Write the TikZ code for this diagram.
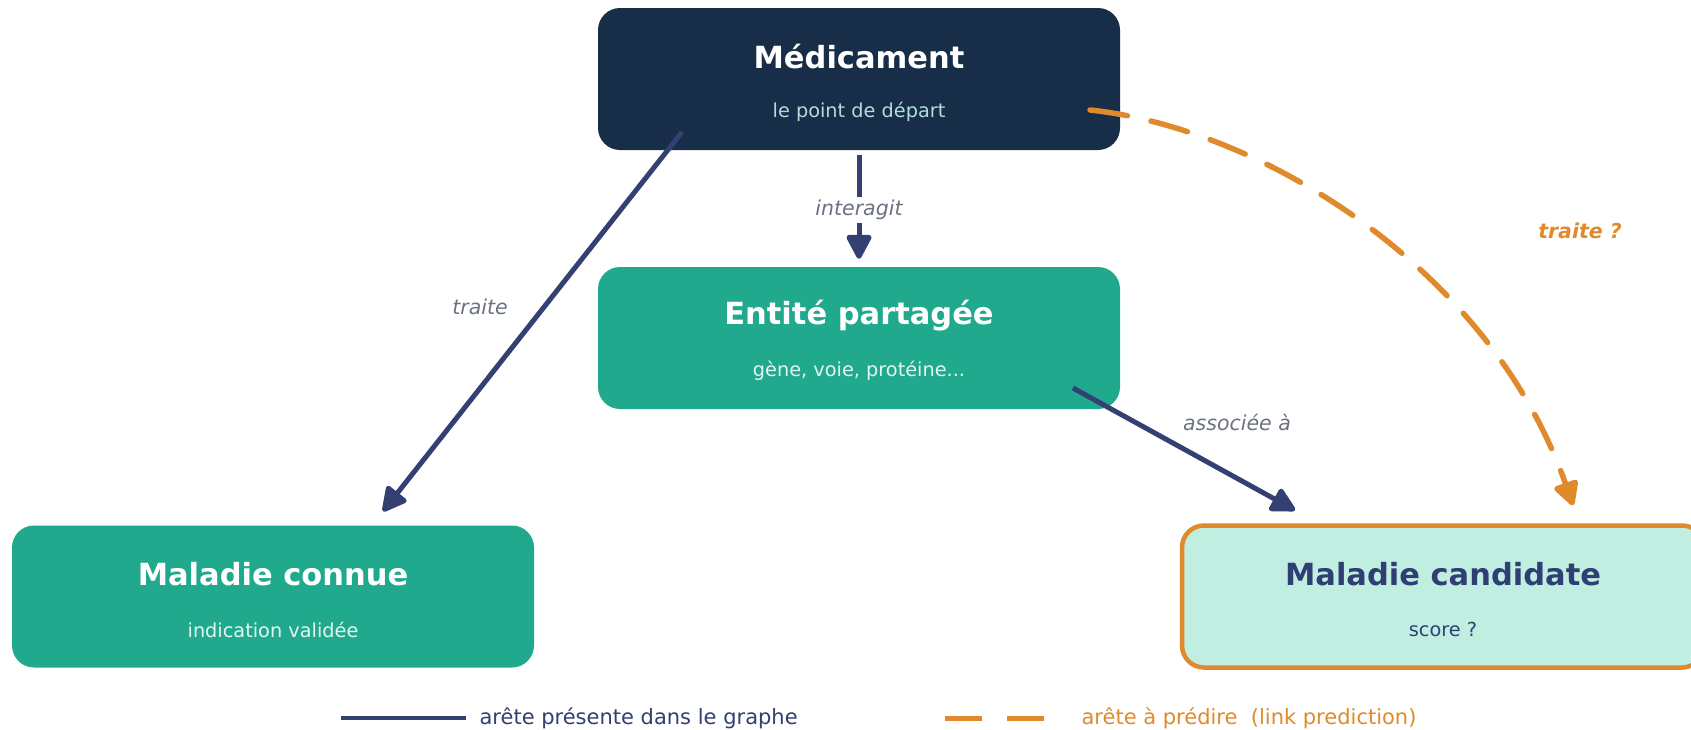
\documentclass[tikz,border=0pt]{standalone}
\usepackage{fontspec}
\setmainfont{DejaVu Sans}
\usetikzlibrary{arrows.meta,calc}
\definecolor{navybox}{HTML}{172D48}
\definecolor{tealbox}{HTML}{20A98C}
\definecolor{mintbox}{HTML}{C0EFE2}
\definecolor{orangec}{HTML}{E08A2C}
\definecolor{arrowc}{HTML}{343F72}
\definecolor{labelc}{HTML}{6B7280}
\definecolor{subnavy}{HTML}{B4DCDA}
\definecolor{subteal}{HTML}{E2F6F1}
\definecolor{candtext}{HTML}{2F3E73}
\begin{document}
\begin{tikzpicture}[x=1pt,y=-1pt,
  box/.style={rounded corners=22pt, minimum width=522pt, minimum height=142pt, inner sep=0pt},
  titletext/.style={font=\fontsize{30.5}{36}\selectfont\bfseries},
  subtext/.style={font=\fontsize{19.3}{23}\selectfont},
  edgelabel/.style={font=\fontsize{20.5}{24}\selectfont\itshape, text=labelc},
  legendtext/.style={font=\fontsize{21}{25}\selectfont, anchor=west},
  tipstyle/.style={-{Triangle[length=27pt,width=27pt,round]}},
  known/.style={draw=arrowc, line width=5pt, tipstyle},
  predicted/.style={draw=orangec, line width=5.5pt, line cap=round, dash pattern=on 38pt off 24pt, tipstyle}
]
\useasboundingbox (0,0) rectangle (1691,729);
\fill[white] (0,0) rectangle (1691,729);

% boxes
\node[box, fill=navybox] (med) at (859,79) {};
\node[titletext, text=white] (medt) at ($(med.center)+(0,-22)$) {Médicament};
\node[subtext, text=subnavy] (meds) at ($(med.center)+(0,33)$) {le point de départ};

\node[box, fill=tealbox] (ent) at (859,338) {};
\node[titletext, text=white] (entt) at ($(ent.center)+(0,-22)$) {Entité partagée};
\node[subtext, text=subteal] (ents) at ($(ent.center)+(0,33)$) {gène, voie, protéine...};

\node[box, fill=tealbox] (con) at (273,596.5) {};
\node[titletext, text=white] (cont) at ($(con.center)+(0,-22)$) {Maladie connue};
\node[subtext, text=subteal] (cons) at ($(con.center)+(0,33)$) {indication validée};

\node[box, fill=mintbox, draw=orangec, line width=4.5pt] (cand) at (1443,596.5) {};
\node[titletext, text=candtext] (candt) at ($(cand.center)+(0,-22)$) {Maladie candidate};
\node[subtext, text=candtext] (cands) at ($(cand.center)+(0,33)$) {score ?};

% connectors
\draw[known] ($(med.center)+(-177,53)$) -- ($(con.north)+(110,-14)$);
\node[edgelabel] (l1) at (480,307) {traite};

\draw[known] ($(med.south)+(0,5)$) -- ($(ent.north)+(0,-8)$);
\node[edgelabel, fill=white, inner sep=3pt] (l2) at (859,210) {interagit};

\draw[known] ($(ent.center)+(214,50)$) -- ($(cand.north)+(-148,-13)$);
\node[edgelabel] (l3) at (1237,422) {associée à};

\draw[predicted] ($(med.center)+(231,31)$) .. controls (1260,128) and (1490,268) .. ($(cand.north)+(130,-18)$);
\node[font=\fontsize{20.5}{24}\selectfont\bfseries\itshape, text=orangec] (l4) at (1580,231) {traite ?};

% legend
\coordinate (ka) at (341,718);
\coordinate (kb) at (466,718);
\draw[draw=arrowc, line width=4.5pt] (ka) -- (kb);
\node[legendtext, text=arrowc] (kt) at (476,718) {arête présente dans le graphe};
\coordinate (pa) at (945,718);
\coordinate (pb) at (1044,718);
\draw[draw=orangec, line width=5pt, dash pattern=on 37pt off 25pt] (pa) -- (pb);
\node[legendtext, text=orangec] (pt) at (1078,718) {arête à prédire\ \ (link prediction)};
\end{tikzpicture}
\end{document}
